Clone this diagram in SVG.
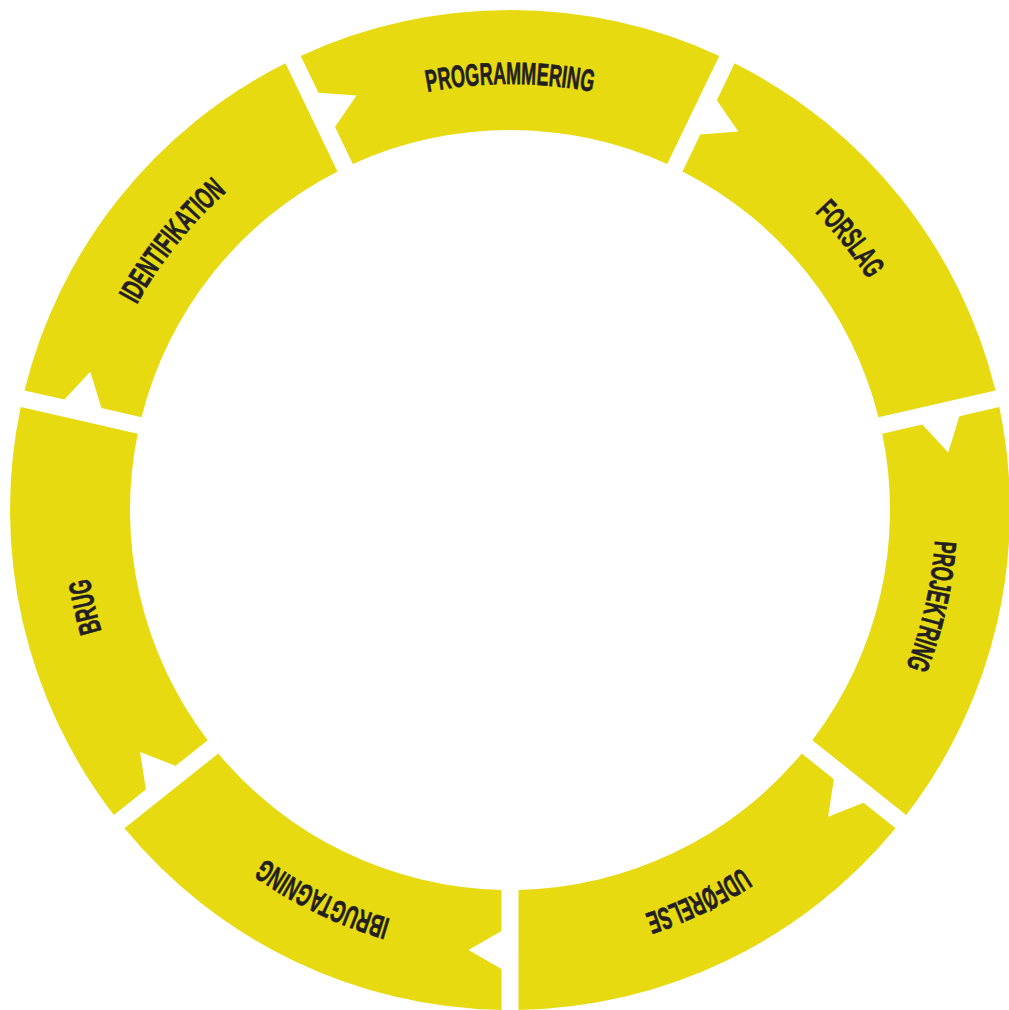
<svg xmlns="http://www.w3.org/2000/svg" width="1009" height="1010" viewBox="0 0 1009 1010">
<style>
.seg{fill:#E7DA11}
.lbl{font-family:"Liberation Sans","DejaVu Sans",Arial,sans-serif;font-weight:bold;font-size:31px;fill:#231F20;stroke:#231F20;stroke-width:0.7;text-anchor:middle}
</style>
<defs>
<path id="seg" d="M -209.25,-454.11 A 500 500 0 0 1 209.25,-454.11 L 157.17,-345.97 A 380 380 0 0 0 -157.17,-345.97 L -175.00,-383.00 L -153.52,-414.43 L -191.49,-417.24 Z"/>
<path id="ring" d="M 510,936 A 426,426 0 1 1 510,84 A 426,426 0 1 1 510,936"/>
</defs>
<rect width="1009" height="1010" fill="#FFFFFF"/>
<g id="programmering">
<use href="#seg" class="seg" transform="translate(510,510) rotate(0)"/>
<text class="lbl"><textPath href="#ring" startOffset="50%" textLength="166" lengthAdjust="spacingAndGlyphs">PROGRAMMERING</textPath></text>
</g>
<g id="forslag">
<use href="#seg" class="seg" transform="translate(510,510) rotate(51.4286)"/>
<text class="lbl"><textPath href="#ring" startOffset="64.286%" textLength="86" lengthAdjust="spacingAndGlyphs">FORSLAG</textPath></text>
</g>
<g id="projektring">
<use href="#seg" class="seg" transform="translate(510,510) rotate(102.8571)"/>
<text class="lbl"><textPath href="#ring" startOffset="78.571%" textLength="130" lengthAdjust="spacingAndGlyphs">PROJEKTRING</textPath></text>
</g>
<g id="udfoerelse">
<use href="#seg" class="seg" transform="translate(510,510) rotate(154.2857)"/>
<text class="lbl"><textPath href="#ring" startOffset="92.857%" textLength="108" lengthAdjust="spacingAndGlyphs">UDFØRELSE</textPath></text>
</g>
<g id="ibrugtagning">
<use href="#seg" class="seg" transform="translate(510,510) rotate(205.7143)"/>
<text class="lbl"><textPath href="#ring" startOffset="7.143%" textLength="140" lengthAdjust="spacingAndGlyphs">IBRUGTAGNING</textPath></text>
</g>
<g id="brug">
<use href="#seg" class="seg" transform="translate(510,510) rotate(257.1429)"/>
<text class="lbl"><textPath href="#ring" startOffset="21.429%" textLength="54" lengthAdjust="spacingAndGlyphs">BRUG</textPath></text>
</g>
<g id="identifikation">
<use href="#seg" class="seg" transform="translate(510,510) rotate(308.5714)"/>
<text class="lbl"><textPath href="#ring" startOffset="35.714%" textLength="145" lengthAdjust="spacingAndGlyphs">IDENTIFIKATION</textPath></text>
</g>
</svg>
